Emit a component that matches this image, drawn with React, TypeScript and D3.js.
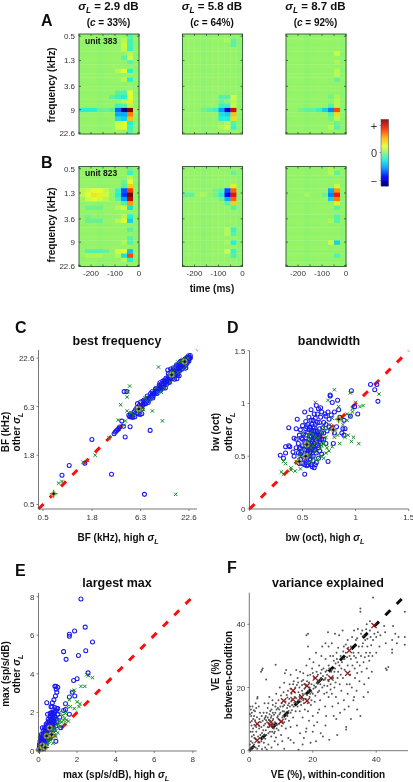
import React from "react";
import * as d3 from "d3";

type P = number[];
const FONT = "'Liberation Sans', Arial, sans-serif";

// ---- Heat-map values: [row, column, value] entries on a near-zero background
const heatTicks = [0.5, 1.3, 3.6, 9, 22.6];
const timeTicks = [-200, -100, 0];
const heatA1: P[] = [[0,8,-.1],[1,7,.1],[1,8,-.12],[2,7,.15],[2,8,-.12],[3,7,.13],[3,8,-.15],[4,8,.1],[5,7,-.08],[5,8,.15],[6,8,-.08],[8,6,.1],[8,7,.2],[8,8,-.2],[10,7,.1],[10,8,-.2],[13,6,-.1],[13,7,-.1],[13,8,.2],[14,5,-.08],[14,6,-.15],[14,7,-.2],[14,8,.2],[15,7,.1],[15,8,.25],[16,6,-.15],[16,7,-.1],[16,8,.1],[17,0,-.2],[17,1,-.2],[17,2,-.18],[17,3,-.06],[17,4,-.05],[17,5,-.1],[17,6,-.55],[17,7,-1],[17,8,1],[17,9,.05],[18,6,-.4],[18,7,-.4],[18,8,.55],[19,6,-.25],[19,7,-.3],[19,8,.4],[20,6,.15],[20,7,.2],[20,8,-.2],[21,6,.15],[21,7,.2],[21,8,-.15],[22,6,.05],[22,8,-.1]];
const heatA2: P[] = [[1,7,.08],[1,8,-.08],[2,8,-.08],[14,6,-.1],[14,7,-.1],[14,8,.15],[15,6,-.05],[15,8,.1],[16,6,-.15],[16,7,-.15],[16,8,.15],[17,3,-.05],[17,4,-.1],[17,5,-.15],[17,6,-.45],[17,7,-.85],[17,8,.85],[18,6,-.25],[18,7,-.3],[18,8,.4],[19,6,-.2],[19,7,-.2],[19,8,.3],[20,7,.1],[20,8,-.1],[21,6,.08],[21,7,.15],[21,8,-.15]];
const heatA3: P[] = [[4,8,.15],[6,8,.08],[8,8,.1],[9,8,.1],[10,8,-.08],[14,7,-.03],[14,8,.08],[15,8,.1],[16,7,-.1],[16,8,.1],[17,2,-.04],[17,3,-.08],[17,4,-.08],[17,5,-.15],[17,6,-.3],[17,7,-.5],[17,8,.65],[18,7,-.1],[18,8,.3],[19,7,-.03],[19,8,.1],[20,8,-.05],[21,7,.1],[21,8,-.1]];
const heatB1: P[] = [[0,8,-.05],[1,8,-.15],[2,8,.1],[3,7,-.05],[3,8,.2],[4,7,-.1],[4,8,.35],[5,0,.1],[5,1,.15],[5,2,.2],[5,3,.2],[5,4,.12],[5,6,-.15],[5,7,-.6],[5,8,.7],[6,0,.12],[6,1,.2],[6,2,.27],[6,3,.24],[6,4,.15],[6,6,-.2],[6,7,-.65],[6,8,1],[7,0,.05],[7,1,.15],[7,2,.18],[7,3,.15],[7,4,.1],[7,6,-.1],[7,7,-.45],[7,8,.9],[8,7,-.1],[8,8,.5],[9,1,-.05],[9,2,-.05],[9,3,-.05],[9,6,.1],[9,7,.15],[9,8,-.25],[11,1,-.03],[11,7,.1],[11,8,-.2],[12,1,-.06],[12,2,-.06],[12,3,-.06],[12,6,.1],[12,7,.2],[12,8,-.3],[14,8,-.1],[16,8,-.1],[17,7,.08],[17,8,-.1],[19,1,-.1],[19,2,-.1],[19,3,-.1],[19,4,-.06],[19,6,.15],[19,7,.2],[19,8,-.35],[20,1,.08],[20,2,.08],[20,3,.08],[20,6,.1],[20,7,-.25],[20,8,.65],[21,7,.1],[21,8,-.2]];
const heatB2: P[] = [[1,8,-.06],[4,8,.25],[5,5,-.03],[5,6,-.1],[5,7,-.6],[5,8,.6],[6,0,-.08],[6,1,-.08],[6,2,.05],[6,3,.08],[6,5,-.05],[6,6,-.2],[6,7,-.75],[6,8,.8],[7,6,-.05],[7,7,-.4],[7,8,.6],[8,7,-.1],[8,8,.35],[9,8,-.1],[14,7,.1],[14,8,-.15],[15,7,.1],[15,8,-.1],[17,7,.08],[17,8,-.2],[19,7,.15],[19,8,-.15],[20,8,-.12]];
const heatB3: P[] = [[0,7,.08],[1,7,.1],[1,8,-.08],[4,8,.15],[5,7,-.4],[5,8,.5],[6,3,.06],[6,6,-.05],[6,7,-.5],[6,8,.75],[7,7,-.3],[7,8,.55],[8,8,.25],[9,8,-.1],[11,8,-.1],[12,7,.08],[12,8,-.1],[17,7,.15],[17,8,-.3],[20,8,-.1]];
const rowBase = [.01,.02,.01,.02,.01,.02,.01,.02,.01,.02,.02,.01,.02,.01,.02,.01,.02,.01,.02,.01,.02,.01,.02];
const colBase = [.01,.015,.015,.0,.01,.015,.015,.01,.015,.0];

// ---- Panel C, best frequency (kHz)
const cBlue: P[] = [[.82,1.07],[.99,1.38],[1.79,2.71],[1.49,1.46],[2.99,1.1],[7.07,.65],[8.2,3.44],[4.27,2.89],[4.86,3.78],[4.09,3.84],[3.91,4.38],[4.16,9.44],[4.46,9.44],[3.2,3.15],[3.3,3.3],[3.4,3.4],[3.5,3.5],[3.6,3.6],[3.7,3.75],[4.7,5.1],[4.8,4.9],[5,4.9],[5.2,4.8],[5.5,4.9],[5.8,5.4],[6,5.3],[6.3,5.2],[6.6,5.3],[5.9,6.9],[6.6,6],[6.8,6.6],[7,6.9],[7.2,7.2],[7.3,6.9],[7.5,7.4],[7.6,7.9],[7.8,7.5],[8,8.1],[8.2,7.9],[8.5,8.3],[8.7,8.8],[8.9,8.5],[9.2,9],[9.4,9.5],[9.6,9.2],[9.9,9.6],[10.2,10.1],[10.4,10.6],[10.6,10.2],[10.9,10.7],[11.2,10.6],[11.5,11.3],[11.8,12.1],[12.2,11.7],[12.6,12.4],[12.8,13],[13.1,12.6],[13.4,14.2],[13.6,13.1],[14,13.6],[14.3,14.9],[14.6,14.1],[15,15.3],[15.3,14.4],[15.7,15.2],[16,16.6],[16.3,15.6],[16.7,16.8],[17,16.2],[17.4,17.6],[17.8,17],[18.2,18.6],[18.6,17.9],[19,19.5],[19.4,18.6],[19.8,20.2],[20.2,19.5],[20.6,21],[21,20.4],[21.4,21.8],[21.8,21],[22.2,22.6],[22.6,22],[23,23],[23.5,22.8],[13,16.6],[14,17],[15.5,13],[16.5,13.2],[17.5,14.3],[12.2,10.4],[10.6,11.9],[16,18],[18,20.5],[15,17.5],[17,19],[19,17],[20,18],[21,19],[11,11.5],[12,12.8],[13.5,12],[9.5,10.2],[8.3,9],[7,7.6],[6.4,7.2],[6.8,7.4],[5.8,6.2],[6.2,6.6],[15.2,16.4],[16.2,17.4],[17.2,18.4],[18.2,19.4],[19.2,20.6],[20.4,22],[21.4,23],[22.4,24],[23.4,24.2],[14.2,15.6],[13.2,15],[12.4,13.4],[11.4,12.4],[10.4,11.2],[9.4,10],[8.6,9.4],[7.6,8.4],[16.6,15],[17.6,16],[18.6,17],[19.6,18],[20.6,19],[21.6,20],[22.6,21],[15.6,14.2],[14.6,13.2],[13.6,12.4],[12.6,11.4],[11.6,10.4],[10.8,9.8],[9.8,9],[8.8,8],[7.8,7.1],[18.4,21],[17.6,20],[16.4,19],[20.8,17.5],[16.8,14.5],[14.8,16.6],[21.2,22.4],[19,20.8],[13.8,13.8],[15.4,15.6],[17.2,17],[18.8,18.8],[20.4,20.4],[22,21.8],[11.6,11.2],[10,10],[12,12],[9,9],[8,8],[7.2,7.5],[5.4,5.6],[5.6,5.9],[5.2,5.2],[6.2,5.8],[6.5,6.4],[4.9,5.3]];
const cGreen: P[] = [[16,.65],[10.2,17.9],[11.3,4.4],[8.7,5.7],[4.8,10.9],[4.6,9.4],[4.5,8.2],[3.8,6.7],[4.5,5.7],[3.56,4.5],[4.16,3.94],[2.8,2.83],[1.95,1.8],[1.6,1.57],[1.42,1.5],[.82,.91],[.75,.87],[5,5.4],[5.4,5.1],[6,5.5],[6.9,5.9],[7.5,7.3],[8.3,7.6],[8.7,8.1],[10,9.2],[11,9.3],[12,10.3],[14,12],[15,15.8],[15.5,17.8],[17,15.5],[18.5,20.6],[20,16.8],[21,18.5],[19.5,22],[17,20.3],[4.3,4.4],[9.6,10.5],[13.5,14.8],[7.2,8],[22,22.6],[14.5,15]];
const cMark: P[] = [[.66,.66],[6.1,6],[14.4,14.6],[20.2,20.6]];

// ---- Panel D, bandwidth (oct)
const dBlue: P[] = [[.29,.51],[.32,.48],[.34,.53],[.34,.59],[.37,.6],[.38,.59],[.37,.77],[.41,.54],[.42,.5],[.42,.67],[.44,.66],[.44,.76],[.45,.85],[.46,.53],[.47,.43],[.48,.47],[.48,.58],[.48,.75],[.49,.67],[.5,.5],[.5,.6],[.5,.79],[.52,.33],[.52,.42],[.52,.56],[.52,.92],[.53,.7],[.53,.83],[.54,.46],[.54,.64],[.55,.52],[.55,.73],[.55,.8],[.56,.44],[.56,.58],[.56,.87],[.57,.69],[.57,.78],[.58,.42],[.58,.5],[.58,.62],[.58,.94],[.59,.72],[.6,.46],[.6,.55],[.6,.66],[.6,.84],[.61,.39],[.61,.77],[.61,.9],[.62,.42],[.62,.6],[.62,.7],[.63,.53],[.63,.65],[.63,.98],[.64,.74],[.64,.82],[.65,.48],[.65,.58],[.65,.95],[.66,.68],[.66,.76],[.67,.62],[.67,.87],[.67,.96],[.68,.72],[.68,.52],[.7,.82],[.7,.66],[.71,.9],[.72,.62],[.73,.74],[.74,.45],[.74,.92],[.75,.85],[.76,1.08],[.76,1.07],[.77,.89],[.78,1.01],[.79,.62],[.8,.72],[.8,.92],[.82,.78],[.83,1.03],[.84,.94],[.85,.87],[.87,.72],[.88,.76],[.89,.84],[.89,.7],[.9,.76],[.95,.88],[.99,.97],[1.02,.9],[.96,1.12],[1.14,1.18],[1.18,1.13],[1.2,1.18],[1.21,1.02],[.44,.58],[.46,.62],[.47,.7],[.51,.71],[.53,.76],[.56,.66],[.58,.74],[.59,.8],[.6,.74],[.62,.8],[.63,.7],[.64,.6],[.66,.55],[.55,.6],[.57,.54],[.53,.49],[.5,.43],[.49,.54],[.47,.57],[.61,.62],[.57,.47],[.54,.41],[.6,.5],[.63,.44],[.66,.7],[.69,.77],[.72,.8],[.75,.78],[.72,.88],[.68,.92],[.64,.9],[.54,.78],[.56,.75],[.58,.68],[.6,.7],[.62,.66],[.64,.68],[.56,.62],[.54,.56],[.52,.64],[.5,.66],[.58,.56],[.6,.6],[.62,.56],[.56,.5],[.54,.52],[.52,.47],[.48,.52],[.58,.84],[.62,.86],[.66,.82],[.7,.72],[.55,.42],[.59,.4],[.62,.74],[.6,.78],[.66,.64],[.68,.66],[.64,.72],[.53,.6],[.57,.6],[.59,.64],[.61,.56]];
const dGreen: P[] = [[.3,.35],[.32,.33],[.32,.45],[.34,.43],[.39,.39],[.39,.37],[.43,.36],[.44,.45],[.46,.47],[.47,.51],[.48,.38],[.5,.56],[.5,.72],[.52,.49],[.54,.6],[.55,.44],[.56,.52],[.57,.66],[.58,.58],[.6,.48],[.6,.71],[.62,.54],[.62,.78],[.63,.63],[.64,.47],[.65,.67],[.66,.74],[.67,.5],[.67,.57],[.68,.6],[.7,.62],[.7,.48],[.72,.53],[.72,.68],[.73,.58],[.74,.76],[.75,.55],[.76,.8],[.78,.59],[.8,.68],[.8,1.13],[.78,.86],[.83,.7],[.84,.97],[.85,.62],[.87,.85],[.88,.8],[.9,.68],[.92,.9],[.93,.7],[.95,.88],[.96,.64],[.97,.92],[.98,.68],[1.03,.62],[1.0,1.01],[.97,.95],[1.04,.97],[1.07,.98],[.95,1.1],[.92,.84],[.62,1.01],[.74,1.03],[.52,.62],[.57,.72],[.6,.6],[1.22,1.09],[.62,.68],[.68,.72],[.58,.45],[.7,.77],[.55,.7]];
const dMark: P[] = [[.47,.45],[.53,.5],[.54,.61],[.79,.75],[.84,.85]];

// ---- Panel E, largest max (sp/s/dB)
const eBlue: P[] = [[2.2,7.88],[2.42,6.42],[1.87,6.22],[1.6,6.05],[1.6,5.95],[2.8,5.65],[1.3,5.15],[2.45,5.2],[2.07,4.95],[1.43,4.75],[2.57,4.05],[2,3.75],[1.82,3.65],[.85,3.35],[.9,3.35],[.92,3.2],[1,3.3],[.95,3.05],[.88,2.85],[.8,2.65],[.72,2.5],[.43,2.5],[.65,2.3],[.7,2.28],[.85,2.25],[1,2.2],[1.3,2.1],[1.4,2.45],[1.6,2.8],[1.75,3.05],[1.88,2.85],[1.4,2.15],[.47,1.9],[.6,1.95],[.7,1.95],[.8,1.9],[.85,1.75],[.6,1.75],[.7,1.7],[.55,1.55],[.65,1.5],[.8,1.55],[.4,1.4],[.5,1.35],[.6,1.3],[.7,1.35],[.2,1.2],[.3,1.2],[.4,1.15],[.5,1.1],[.6,1.15],[.75,1.2],[.9,1.3],[1.15,1.2],[.15,.85],[.25,.9],[.35,.95],[.45,.9],[.55,.85],[.65,.95],[.1,.7],[.2,.7],[.3,.75],[.4,.7],[.5,.75],[.6,.65],[.08,.5],[.15,.55],[.25,.55],[.35,.5],[.45,.55],[.9,.5],[.05,.35],[.12,.4],[.2,.4],[.3,.4],[.4,.35],[.05,.2],[.12,.25],[.2,.2],[.3,.25],[.03,.1],[.1,.12],[.18,.1],[.25,.12],[.35,.2],[.7,1.05],[.8,1.1],[.7,1.6],[.62,1.85],[.75,1.85],[.68,2],[.55,1.2],[.45,1.25],[.35,1.05],[.28,.65],[.58,1.45],[.5,1.65],[.85,2],[1,1.9],[1.6,1.9],[.95,1.5],[1.1,1.75],[.65,1.65],[.72,1.45],[.78,1.7],[.68,1.25],[.62,1.05],[.52,.98],[.42,1.02],[.32,.85],[.22,.8],[.12,.62],[.18,.48],[.28,.46],[.38,.6],[.48,.65],[.58,.92],[.75,1.35],[.85,1.45],[.9,1.65],[.78,1.98],[.9,2.1],[.95,2.2],[.48,1.48],[.42,1.32],[.36,1.15],[.24,1],[.16,.72],[.08,.28],[.14,.32],[.22,.3],[.02,.05],[.06,.15]];
const eGreen: P[] = [[2.5,3.95],[2.8,3.8],[2.6,3.9],[1.85,3.15],[2.2,3.35],[2.4,3.35],[1.75,3.1],[2,2.55],[2.1,2.3],[2.15,2.45],[1.6,2.65],[1.5,2.3],[1.65,2.3],[1.85,2.2],[1.1,2],[1.25,1.85],[1.4,1.95],[1.35,1.7],[1.45,1.6],[1,1.6],[1.1,1.55],[1.2,1.5],[1.4,1.4],[.95,1.35],[1.15,1.25],[.8,1.2],[.9,1.05],[1,.95],[.7,.9],[.85,.8],[.9,.75],[.6,.75],[.7,.65],[.75,.4],[.5,.45],[.45,.35],[.35,.3],[.3,.2],[.2,.15],[.12,.08],[.55,.6],[1.55,1.55],[1.3,1.6],[1.05,1.4],[.75,1.1],[.82,.95],[.65,.85],[.55,.5]];
const eMark: P[] = [[.05,.05],[.2,.28],[.35,.18],[.42,.78],[.58,1.2],[.68,.85]];

// ---- Panel F, variance explained (%)
const fRed: P[] = [[2.5,8.5],[2.5,3.3],[6.8,9],[6.8,8],[10,9.2],[10.8,15.8],[13.8,19],[13.8,16.2],[16.5,17],[18.2,20.5],[18.2,15.8],[20.8,23],[25.7,23],[31,24.5],[31.5,31.7],[39.3,39.6]];
const fGray: P[] = [[.2,14],[.5,13],[.6,11],[.8,12],[1,14],[.3,9],[.7,8],[1.2,10],[1.5,11],[.4,6],[1,6],[1.4,5],[.5,3],[1,2.5],[1.5,2],[.4,1],[1.2,1],[2,1],[2.5,.6],[3,1.5],[4,.5],[1.8,12.5],[2.2,13.5],[2.5,16.5],[2.6,17],[3,14],[3.4,12],[3.6,9],[3.1,7],[2.2,6],[2.8,4.5],[3.5,5],[3.8,3],[4.2,4],[4.6,2.5],[5,1],[5.5,.4],[6,2],[4,25.5],[3.7,25],[4.2,26],[5.3,22.5],[8.3,27.2],[4.8,15],[4.5,12],[5,10.5],[4.6,8],[5.2,6.5],[5.4,5],[5.8,7.5],[5.5,12],[5.8,13.5],[6,15],[6.3,17],[6.4,11.5],[6.2,9.8],[6.5,6],[6.9,4.5],[7,11],[7,13],[7.4,14.5],[7.3,16],[7.5,10],[7.7,7],[7.8,5.5],[8,3],[8.1,9],[8.2,12],[8.4,15],[8.5,18],[8.6,7],[8.8,10.5],[9,13.5],[9.2,16],[9.2,6.5],[9.4,8.5],[9.5,11.5],[9.6,20],[9.8,14],[10,17.5],[10,5],[10.2,7.8],[10.4,10.5],[10.5,12.5],[10.8,18.5],[11,9],[11,14.5],[11,21.5],[11.2,24.5],[11.6,25.5],[11.5,7],[11.8,11.5],[11.9,13.5],[12,16.8],[12.2,19],[12.3,4],[12.5,9.5],[12.5,15],[12.7,21],[13,12],[13,24],[13,7.5],[13.3,18],[13.5,14.5],[13.8,10.5],[14,22],[14,2.5],[14.3,17],[14.5,20],[14.6,12.5],[14.8,25.5],[15,15],[15,8],[15.2,23],[15.5,18.5],[15.5,0.3],[15.8,20],[15.9,12.5],[16,25],[16,5.5],[16.3,14.5],[16.5,22],[16.6,19],[16.8,10.5],[17,16],[17,24.5],[17.2,4],[17.3,21],[17.5,13],[17.6,18],[17.8,6],[18,27],[18,36.5],[18.2,22],[18.5,37],[18.5,33],[18.5,12.5],[18.6,19],[18.8,9.5],[19,17],[19,29],[19.2,24],[19.3,2.5],[19.4,14.5],[19.6,21],[19.8,26],[20,6],[20,18],[20,11],[20.2,28],[20.4,23],[20.6,15.5],[20.8,20],[21,3],[21,31],[21.2,25],[21.4,9],[21.6,18.5],[21.8,22],[22,27],[22,13],[22.3,16],[22.5,24.5],[22.5,5.5],[22.7,30],[23,20],[23,33],[23.2,4.5],[23.4,26],[23.6,18],[23.8,22.5],[23.9,14],[24,29],[24,34],[24.2,11],[24.5,24],[24.6,20.5],[24.8,37.5],[25,27],[25,17],[25,33],[25.2,3.5],[25.5,30],[25.6,21],[25.8,25],[26,18],[26,34],[26.2,14],[26.4,23],[26.6,28.5],[26.8,20],[27,26],[27,37],[27.3,17],[27.4,10],[27.5,31],[27.7,5],[27.8,23],[28,28],[28,15],[28.3,36.5],[28.5,21],[28.6,12],[28.8,30],[29,26],[29,19],[29.4,38],[29.5,23],[29.8,33],[29.8,16],[30,13],[30,29],[30.5,7.5],[30.5,6.7],[30.7,21],[31,27],[31,35],[31,18],[31.3,14],[31.6,30],[31.8,24],[32,33],[32,10],[32.3,20],[32.5,27],[32.8,16],[33,38],[33,30],[33.3,23],[33.6,35],[33.8,19],[34,28],[34,13],[34.2,38.5],[34.5,33],[34.7,22],[35,45],[35,44],[35,11],[35.2,30],[35.4,25],[35.6,38],[35.8,34],[36,17],[36,28],[36.2,21],[36.5,35],[36.8,31],[37,26],[37,40],[37.2,33],[37.4,18.5],[37.6,23],[37.8,28.5],[38,31],[38,41],[38.2,36],[38.6,25],[38.8,30],[39,48.5],[39,35],[40,31],[40.5,37.5],[41,33],[41.3,36.5],[42.5,39.5],[42.8,37.5],[43,34],[43,26],[43.3,25.5],[43.8,26.5],[45,32],[45,35],[45,31],[45.3,39.5],[46,37],[47,36],[46.5,34],[49,44],[49,36],[49,33.5],[1.6,8.2],[2.2,7.5],[3,8],[3.8,7.5],[4.4,6.5],[5,8.5],[5.3,9.6],[5.8,10.5],[6,5.5],[6.4,8],[6.6,9.5],[7.2,8.6],[7.2,6],[7.6,8],[8,6],[8.4,8.2],[8.8,8.2],[9.2,10],[9.6,9.6],[10.4,9],[10.8,11],[11.4,10],[12,11],[12.4,12.6],[12.8,14],[13.4,12.8],[14,14],[14.2,15.2],[14.8,16.6],[15.2,14],[15.4,16],[16,17.5],[16.4,16.4],[16.8,18],[17.2,15],[17.8,16.4],[18.2,17.6],[18.4,15],[19,20],[19.6,18.6],[20.2,19.6],[21,20.2],[21.6,21.2],[22.4,21],[22.6,23],[23.4,22.4],[24,23],[24.4,25.4],[25,22],[26,25.6],[27.2,27.6],[28,25],[29.6,29],[30.4,31],[2,3.6],[2.8,2.6],[3.4,4],[4,5.6],[4.6,5],[.8,4.5],[1.6,4],[.2,2],[5,3.8],[3.2,10],[3.9,11],[4.2,9.5],[4.8,10],[5.2,11],[5.6,9],[6,8.8],[6.6,12.6],[6.8,10.4],[7.4,12],[7.8,11.4],[8.2,14],[8.6,13],[9,11],[9.4,13],[9.8,12],[10.2,15],[10.6,14],[11,12.4],[11.4,15.6],[11.8,17.6],[12.2,14.4],[12.6,16.4],[13,19.6],[13.4,16],[13.8,21],[14.2,18.6],[14.6,15.4],[15,20.8],[15.4,21.6],[15.8,17],[16.2,15.6],[16.6,20.8],[17,22.4],[17.4,19.6],[17.8,20.6],[18.4,23.8],[18.8,21.6],[19.2,18],[19.6,16],[20,24.6],[20.4,20.6],[20.8,17.4],[21.2,21.4],[21.6,24],[22,19],[22.4,22.4],[22.8,25.6],[23.2,23.6],[23.6,20.6],[24,25],[24.4,18.4],[24.8,22.4],[25.2,26],[25.6,19.4],[26,23],[26.4,30],[26.8,25],[27.2,21.6],[27.6,29],[28,32.6],[28.4,27],[28.8,24],[29.2,28],[29.6,31.4],[30,25.6],[30.4,33.6],[30.8,29.6],[31.2,32.6],[31.6,21],[32,29],[32.4,36],[32.8,31],[33.2,26],[33.6,29.4],[34,35.6],[34.4,31],[34.8,27],[35.2,37],[35.6,33],[36,36.4],[36.4,29.6],[36.8,38.4],[37.2,35.4],[37.6,30],[38,38],[38.4,33.4],[39.4,37],[40,36],[1.2,7],[1.8,9.6],[2.4,10.6],[.8,9.4],[.2,11.6],[1.4,12.8],[2,15],[.6,.4],[3.2,2.6],[7,1],[9,2],[8.4,4.2],[10.4,3],[11,.6],[13,3.4],[16.8,2],[18,7],[20.4,8],[21.6,12],[24,8],[26.6,11],[33,17],[34,24.6]];

const fmt = (v: number) => String(v);

// Jet colormap used by the heat maps and the colour bar
const jet = d3.scaleLinear<string>()
  .domain([-1, -.75, -.45, -.2, 0, .2, .45, .75, 1])
  .range(["#00007f", "#0000ff", "#00a0ff", "#20f0d8", "#88f272", "#e0ff30", "#ffb000", "#ff1800", "#7f0000"]);
const barValues = d3.range(0, 67).map(i => 1 - i / 33);

function Sigma({ x, y, size, anchor = "middle", rest = "", pre = "", rot }: any) {
  return (
    <text x={x} y={y} fontSize={size} fontWeight="bold" fontFamily={FONT} textAnchor={anchor} fill="#111"
      transform={rot ? `rotate(-90 ${x} ${y})` : undefined}>
      {pre}<tspan fontStyle="italic">σ</tspan>
      <tspan fontStyle="italic" fontSize={size * .72} dy={size * .28}>L</tspan>
      <tspan dy={-size * .28}>{rest}</tspan>
    </text>
  );
}

function Heat({ x, y, cells, showY, showX, label }: any) {
  const w = 60, h = 100;
  const sx = d3.scaleBand<number>().domain(d3.range(10)).range([x, x + w]);
  const sy = d3.scaleBand<number>().domain(d3.range(23)).range([y, y + h]);
  const t = d3.scaleLinear().domain([-250, 0]).range([x, x + w]);
  const f = d3.scaleLog().base(2).domain([.5, 22.6]).range([y + 2.2, y + h - 1]);
  const grid = new Map<string, number>();
  cells.forEach((c: P) => grid.set(c[0] + "_" + c[1], c[2]));
  return (
    <g>
      {d3.range(23).map(r => d3.range(10).map(c => {
        const v = grid.get(r + "_" + c) ?? (rowBase[r] + colBase[c]);
        return <rect key={r + "-" + c} x={sx(c)} y={sy(r)} width={sx.bandwidth() + .3} height={sy.bandwidth() + .3} fill={jet(v)} />;
      }))}
      <rect x={x} y={y} width={w} height={h} fill="none" stroke="#3d6a3d" strokeWidth={1} />
      {heatTicks.map(v => (
        <g key={v}>
          <line x1={x} x2={x + 2} y1={f(v)} y2={f(v)} stroke="#333" strokeWidth={.7} />
          <line x1={x + w - 2} x2={x + w} y1={f(v)} y2={f(v)} stroke="#333" strokeWidth={.7} />
          {showY && <text x={x - 4} y={f(v) + 3} fontSize={8} textAnchor="end" fontFamily={FONT} fill="#333">{fmt(v)}</text>}
        </g>
      ))}
      {[-250, ...timeTicks, -150, -50].map(v => (
        <g key={v}>
          <line x1={t(v)} x2={t(v)} y1={y} y2={y + 2} stroke="#333" strokeWidth={.7} />
          <line x1={t(v)} x2={t(v)} y1={y + h - 2} y2={y + h} stroke="#333" strokeWidth={.7} />
        </g>
      ))}
      {showX && timeTicks.map(v => <text key={v} x={t(v)} y={y + h + 9.5} fontSize={8} textAnchor="middle" fontFamily={FONT} fill="#333">{fmt(v)}</text>)}
      {label && <text x={x + 6} y={y + 9.5} fontSize={8.5} fontWeight="bold" fontFamily={FONT} fill="#111">{label}</text>}
    </g>
  );
}

function Circle({ cx, cy }: any) { return <circle cx={cx} cy={cy} r={2} fill="none" stroke="#1818f0" strokeWidth={1.05} />; }
function Cross({ cx, cy, s = 1.7, c = "#128a22", w = 1 }: any) {
  return <path d={`M${cx - s} ${cy - s}L${cx + s} ${cy + s}M${cx - s} ${cy + s}L${cx + s} ${cy - s}`} stroke={c} strokeWidth={w} fill="none" />;
}
function Mark({ cx, cy }: any) {
  return (
    <g>
      <circle cx={cx} cy={cy} r={3} fill="#c8d040" opacity={.7} />
      <path d={`M${cx - 4} ${cy}H${cx + 4}M${cx} ${cy - 4}V${cy + 4}`} stroke="#4a6a10" strokeWidth={1} />
      <circle cx={cx} cy={cy} r={1.3} fill="#101060" />
    </g>
  );
}

function Scatter({ x, y, blue, green, marks, gray, red, lineColor, xTicks, yTicks, title, titleX, titleY }: any) {
  const lineEnd = x.domain()[1];
  const l0 = x.domain()[0];
  return (
    <g>
      <text x={titleX} y={titleY} fontSize={12.5} fontWeight="bold" textAnchor="middle" fontFamily={FONT} fill="#111">{title}</text>
      <path d={`M${x(l0)} ${y(l0)}L${x(lineEnd)} ${y(lineEnd)}`} stroke={lineColor} strokeWidth={3} strokeDasharray="7 9" fill="none" />
      {gray && gray.map((p: P, i: number) => <circle key={i} cx={x(p[0])} cy={y(p[1])} r={1} fill="#555" />)}
      {blue && blue.map((p: P, i: number) => <Circle key={i} cx={x(p[0])} cy={y(p[1])} />)}
      {green && green.map((p: P, i: number) => <Cross key={i} cx={x(p[0])} cy={y(p[1])} />)}
      {marks && marks.map((p: P, i: number) => <Mark key={i} cx={x(p[0])} cy={y(p[1])} />)}
      {red && red.map((p: P, i: number) => <Cross key={i} cx={x(p[0])} cy={y(p[1])} s={2.6} c="#8a1c1c" w={1.3} />)}
      <path d={`M${x.range()[0]} ${y.range()[1]}V${y.range()[0]}H${x.range()[1]}`} stroke="#555" strokeWidth={.8} fill="none" />
      {xTicks.map((t: any) => (
        <g key={t[1]}>
          <line x1={x(t[0])} x2={x(t[0])} y1={y.range()[0]} y2={y.range()[0] + 2} stroke="#555" strokeWidth={.7} />
          <text x={x(t[0])} y={y.range()[0] + 11} fontSize={8} textAnchor="middle" fontFamily={FONT} fill="#333">{t[1]}</text>
        </g>
      ))}
      {yTicks.map((t: any) => (
        <g key={t[1]}>
          <line x1={x.range()[0] - 2} x2={x.range()[0]} y1={y(t[0])} y2={y(t[0])} stroke="#555" strokeWidth={.7} />
          <text x={x.range()[0] - 4} y={y(t[0]) + 3} fontSize={8} textAnchor="end" fontFamily={FONT} fill="#333">{t[1]}</text>
        </g>
      ))}
    </g>
  );
}

const Label = ({ x, y, children, rot, size = 10 }: any) => (
  <text x={x} y={y} fontSize={size} fontWeight="bold" textAnchor="middle" fontFamily={FONT} fill="#111"
    transform={rot ? `rotate(-90 ${x} ${y})` : undefined}>{children}</text>
);
const Letter = ({ x, y, children }: any) => (
  <text x={x} y={y} fontSize={16} fontWeight="bold" fontFamily={FONT} fill="#111">{children}</text>
);

export default function App() {
  const colsX = [79, 182.5, 286];
  const sc = d3.scaleLog().base(2).domain([.444, 27.9]);
  const cx = sc.copy().range([38.5, 197]);
  const cy = sc.copy().range([509, 350]);
  const dx = d3.scaleLinear().domain([0, 1.5]).range([249.5, 408.7]);
  const dy = d3.scaleLinear().domain([0, 1.5]).range([509, 350.7]);
  const ex = d3.scaleLinear().domain([0, 8.2]).range([38.5, 196.7]);
  const ey = d3.scaleLinear().domain([0, 8.2]).range([751, 592.8]);
  const fx = d3.scaleLinear().domain([0, 50]).range([249.3, 408]);
  const fy = d3.scaleLinear().domain([0, 50]).range([750.7, 592.7]);
  const cTicks = [[.5, "0.5"], [1.8, "1.8"], [6.4, "6.3"], [22.6, "22.6"]];
  const dTicksX = [[0, "0"], [.5, "0.5"], [1, "1"], [1.5, "1.5"]];
  const eTicks = [0, 2, 4, 6, 8].map(v => [v, String(v)]);
  const fTicks = [0, 20, 40].map(v => [v, String(v)]);
  const barY = d3.scaleBand<number>().domain(d3.range(barValues.length)).range([119.5, 186]);
  return (
    <svg width={413} height={782} style={{ position: "absolute", left: 0, top: 0 }}>
      <defs>
        <filter id="soft" x="0" y="0" width="100%" height="100%"><feGaussianBlur stdDeviation=".35" /></filter>
      </defs>
      <g filter="url(#soft)">
        <rect width={413} height={782} fill="#fff" />
        {[["2.9", "33%"], ["5.8", "64%"], ["8.7", "92%"]].map((h, i) => (
          <g key={i}>
            <Sigma x={colsX[i] + 29.5} y={10} size={11.5} rest={` = ${h[0]} dB`} />
            <text x={colsX[i] + 29.5} y={26} fontSize={10} fontWeight="bold" textAnchor="middle" fontFamily={FONT} fill="#111">
              (<tspan fontStyle="italic">c</tspan> = {h[1]})
            </text>
          </g>
        ))}
        <Letter x={41} y={26}>A</Letter>
        <Letter x={41} y={168}>B</Letter>
        <Heat x={colsX[0]} y={34} cells={heatA1} showY label="unit 383" />
        <Heat x={colsX[1]} y={34} cells={heatA2} />
        <Heat x={colsX[2]} y={34} cells={heatA3} />
        <Heat x={colsX[0]} y={166.5} cells={heatB1} showY showX label="unit 823" />
        <Heat x={colsX[1]} y={166.5} cells={heatB2} showX />
        <Heat x={colsX[2]} y={166.5} cells={heatB3} showX />
        <Label x={55} y={85} rot>frequency (kHz)</Label>
        <Label x={55} y={225} rot>frequency (kHz)</Label>
        <Label x={212} y={292}>time (ms)</Label>
        {barValues.map((v, i) => <rect key={i} x={381} y={barY(i)} width={7.5} height={barY.bandwidth() + .3} fill={jet(v)} />)}
        <rect x={381} y={119.5} width={7.5} height={66.5} fill="none" stroke="#444" strokeWidth={.5} />
        {[["+", 125.5], ["0", 152.5], ["−", 180.5]].map((t: any) => (
          <g key={t[0]}>
            <text x={374} y={t[1] + 4} fontSize={11} textAnchor="middle" fontFamily={FONT} fill="#333">{t[0]}</text>
            <line x1={379.5} x2={381} y1={t[1]} y2={t[1]} stroke="#555" strokeWidth={.6} />
          </g>
        ))}

        <Letter x={15} y={333}>C</Letter>
        <Letter x={227} y={333}>D</Letter>
        <Letter x={15} y={576}>E</Letter>
        <Letter x={227} y={573}>F</Letter>

        <Scatter x={cx} y={cy} blue={cBlue} green={cGreen} marks={cMark} lineColor="#ff0a0a" xTicks={cTicks} yTicks={cTicks} title="best frequency" titleX={117} titleY={345} />
        <Label x={9} y={432} rot>BF (kHz)</Label>
        <Sigma x={20} y={432} size={10} pre="other " rot />
        <Sigma x={118} y={541} size={10} pre="BF (kHz), high " />

        <Scatter x={dx} y={dy} blue={dBlue} green={dGreen} marks={dMark} lineColor="#ff0a0a" xTicks={dTicksX} yTicks={dTicksX} title="bandwidth" titleX={329} titleY={345} />
        <Label x={219} y={432} rot>bw (oct)</Label>
        <Sigma x={232} y={432} size={10} pre="other " rot />
        <Sigma x={325} y={541} size={10} pre="bw (oct), high " />

        <Scatter x={ex} y={ey} blue={eBlue} green={eGreen} marks={eMark} lineColor="#ff0a0a" xTicks={eTicks} yTicks={eTicks} title="largest max" titleX={117} titleY={587} />
        <Label x={9} y={674} rot>max (sp/s/dB)</Label>
        <Sigma x={20} y={674} size={10} pre="other " rot />
        <Sigma x={116} y={778} size={10} pre="max (sp/s/dB), high " />

        <Scatter x={fx} y={fy} gray={fGray} red={fRed} lineColor="#0a0a0a" xTicks={fTicks} yTicks={fTicks} title="variance explained" titleX={328} titleY={587} />
        <Label x={219} y={675} rot>VE (%)</Label>
        <Label x={232} y={675} rot>between-condition</Label>
        <Label x={328} y={778}>VE (%), within-condition</Label>
      </g>
    </svg>
  );
}
